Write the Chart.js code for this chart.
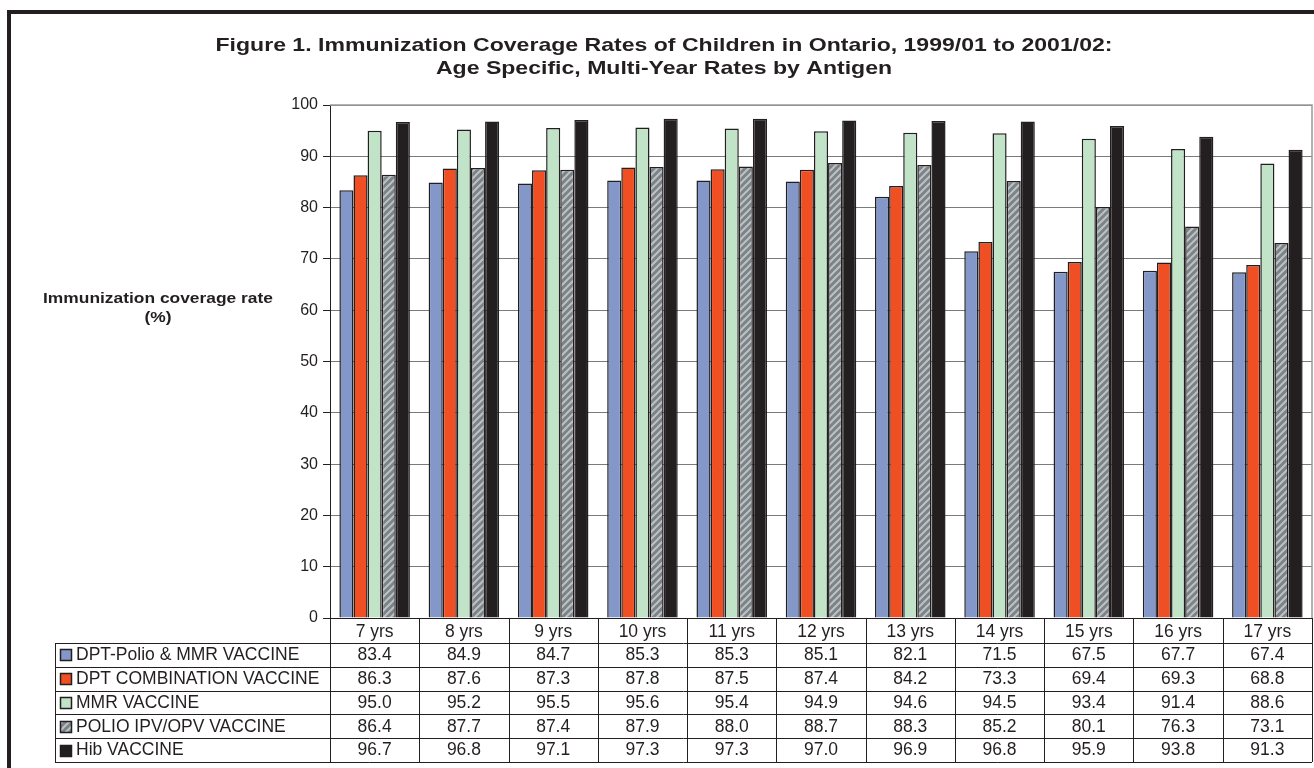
<!DOCTYPE html>
<html>
<head>
<meta charset="utf-8">
<script src="https://cdn.jsdelivr.net/npm/chart.js@4/dist/chart.umd.min.js"></script>
<style>
  html, body { margin: 0; padding: 0; background: #fff; }
  canvas { display: block; }
</style>
</head>
<body>
<canvas id="chart" width="1314" height="768"></canvas>
<script>
// Age groups (x categories)
const ageGroups = ['7 yrs', '8 yrs', '9 yrs', '10 yrs', '11 yrs', '12 yrs', '13 yrs', '14 yrs', '15 yrs', '16 yrs', '17 yrs'];

// Coverage rates (%) per antigen
const dptPolioMmr    = [83.4, 84.9, 84.7, 85.3, 85.3, 85.1, 82.1, 71.5, 67.5, 67.7, 67.4];
const dptCombination = [86.3, 87.6, 87.3, 87.8, 87.5, 87.4, 84.2, 73.3, 69.4, 69.3, 68.8];
const mmrVaccine     = [95.0, 95.2, 95.5, 95.6, 95.4, 94.9, 94.6, 94.5, 93.4, 91.4, 88.6];
const polioVaccine   = [86.4, 87.7, 87.4, 87.9, 88.0, 88.7, 88.3, 85.2, 80.1, 76.3, 73.1];
const hibVaccine     = [96.7, 96.8, 97.1, 97.3, 97.3, 97.0, 96.9, 96.8, 95.9, 93.8, 91.3];

const seriesNames = ['DPT-Polio & MMR VACCINE', 'DPT COMBINATION VACCINE', 'MMR VACCINE', 'POLIO IPV/OPV VACCINE', 'Hib VACCINE'];

const yTicks = [0, 10, 20, 30, 40, 50, 60, 70, 80, 90, 100];

const titleLines = [
  'Figure 1. Immunization Coverage Rates of Children in Ontario, 1999/01 to 2001/02:',
  'Age Specific, Multi-Year Rates by Antigen'
];
const yTitleLines = ['Immunization coverage rate', '(%)'];

const FONT = "'Liberation Sans', Arial, Helvetica, sans-serif";
const INK = '#231f20';

// Diagonal hatch used for the polio series
function makeHatch() {
  const s = 7;
  const c = document.createElement('canvas');
  c.width = s; c.height = s;
  const g = c.getContext('2d');
  g.fillStyle = '#7b8387';
  g.fillRect(0, 0, s, s);
  g.strokeStyle = '#bcc1c4';
  g.lineWidth = 2;
  g.beginPath();
  g.moveTo(0, s); g.lineTo(s, 0);
  g.moveTo(-1, 1); g.lineTo(1, -1);
  g.moveTo(s - 1, s + 1); g.lineTo(s + 1, s - 1);
  g.stroke();
  return g.createPattern(c, 'repeat');
}

const ctx0 = document.getElementById('chart').getContext('2d');
const hatch = makeHatch();
const fills = ['#8497c9', '#f04e23', '#c1e3c8', hatch, INK];
const seriesValues = [dptPolioMmr, dptCombination, mmrVaccine, polioVaccine, hibVaccine];

const datasets = seriesValues.map((vals, i) => ({
  label: seriesNames[i],
  data: vals,
  backgroundColor: fills[i],
  borderColor: INK,
  borderWidth: 1.5,
  categoryPercentage: 0.79,
  barPercentage: 1.0
}));

// Centered block of lines, widened horizontally so the first line spans `width`
function drawWideLines(ctx, lines, cx, y0, lineGap, font, width) {
  ctx.save();
  ctx.font = font;
  ctx.textAlign = 'center';
  ctx.textBaseline = 'middle';
  const sx = width / ctx.measureText(lines[0]).width;
  ctx.translate(cx, 0);
  ctx.scale(sx, 1);
  lines.forEach((t, i) => ctx.fillText(t, 0, y0 + i * lineGap));
  ctx.restore();
}

// Frame, titles, plot border and the data table beneath the axis
const decorations = {
  id: 'decorations',
  afterDraw(chart) {
    const ctx = chart.ctx;
    const area = chart.chartArea;
    const xs = chart.scales.x;
    ctx.save();

    // outer frame
    ctx.strokeStyle = INK;
    ctx.lineWidth = 4;
    ctx.strokeRect(9, 12, 1400, 900);

    // title
    ctx.fillStyle = INK;
    drawWideLines(ctx, titleLines, 664, 46, 23, 'bold 19px ' + FONT, 897);

    // y-axis title
    drawWideLines(ctx, yTitleLines, 158, 299, 19, 'bold 14px ' + FONT, 230);

    // plot area border (top and right)
    ctx.strokeStyle = '#9a9a9a';
    ctx.lineWidth = 1.5;
    ctx.beginPath();
    ctx.moveTo(area.left, area.top);
    ctx.lineTo(area.right, area.top);
    ctx.lineTo(area.right, area.bottom);
    ctx.stroke();

    // data table
    const half = (xs.getPixelForValue(1) - xs.getPixelForValue(0)) / 2;
    const headerBottom = area.bottom + 25;
    const rowH = 23.8;
    const tableBottom = headerBottom + rowH * seriesNames.length;
    const legendLeft = 55;

    ctx.strokeStyle = INK;
    ctx.lineWidth = 1;
    ctx.beginPath();
    // column separators
    for (let i = 0; i <= ageGroups.length; i++) {
      const x = Math.round(xs.getPixelForValue(0) - half + i * 2 * half) + 0.5;
      ctx.moveTo(x, area.bottom);
      ctx.lineTo(x, tableBottom);
    }
    // header bottom & rows
    for (let r = 0; r <= seriesNames.length; r++) {
      const y = Math.round(headerBottom + r * rowH) + 0.5;
      ctx.moveTo(legendLeft, y);
      ctx.lineTo(area.right, y);
    }
    ctx.moveTo(legendLeft + 0.5, headerBottom);
    ctx.lineTo(legendLeft + 0.5, tableBottom);
    ctx.stroke();

    ctx.font = '17.5px ' + FONT;
    ctx.textBaseline = 'middle';
    seriesNames.forEach((name, r) => {
      const cy = headerBottom + r * rowH + rowH / 2 + 0.5;
      // swatch
      ctx.fillStyle = fills[r];
      ctx.fillRect(60, Math.round(cy - 6), 12, 12);
      ctx.strokeStyle = INK;
      ctx.lineWidth = 1.5;
      ctx.strokeRect(60.5, Math.round(cy - 6) + 0.5, 11, 11);
      // name
      ctx.fillStyle = INK;
      ctx.textAlign = 'left';
      ctx.fillText(name, 76, cy);
      // values
      ctx.textAlign = 'center';
      seriesValues[r].forEach((v, i) => {
        ctx.fillText(v.toFixed(1), xs.getPixelForValue(i), cy);
      });
    });

    ctx.restore();
  }
};

new Chart(ctx0, {
  type: 'bar',
  data: { labels: ageGroups, datasets },
  options: {
    responsive: false,
    animation: false,
    devicePixelRatio: 1,
    layout: { padding: { left: 270, top: 105, right: 2, bottom: 0 } },
    plugins: {
      legend: { display: false },
      title: { display: false },
      tooltip: { enabled: false }
    },
    scales: {
      x: {
        grid: { display: false, drawTicks: false },
        border: { display: true, color: INK, width: 1 },
        ticks: { color: INK, font: { family: FONT, size: 17.5 }, padding: 4, maxRotation: 0 },
        afterFit(scale) { scale.height = 150; }
      },
      y: {
        min: 0,
        max: 100,
        afterBuildTicks(scale) { scale.ticks = yTicks.map(v => ({ value: v })); },
        grid: { color: '#7a7a7a', tickColor: INK, tickLength: 7, lineWidth: 1 },
        border: { color: INK, width: 1 },
        ticks: { color: INK, font: { family: FONT, size: 16 }, padding: 5 },
        afterFit(scale) { scale.width = 60; }
      }
    }
  },
  plugins: [decorations]
});
</script>
</body>
</html>
